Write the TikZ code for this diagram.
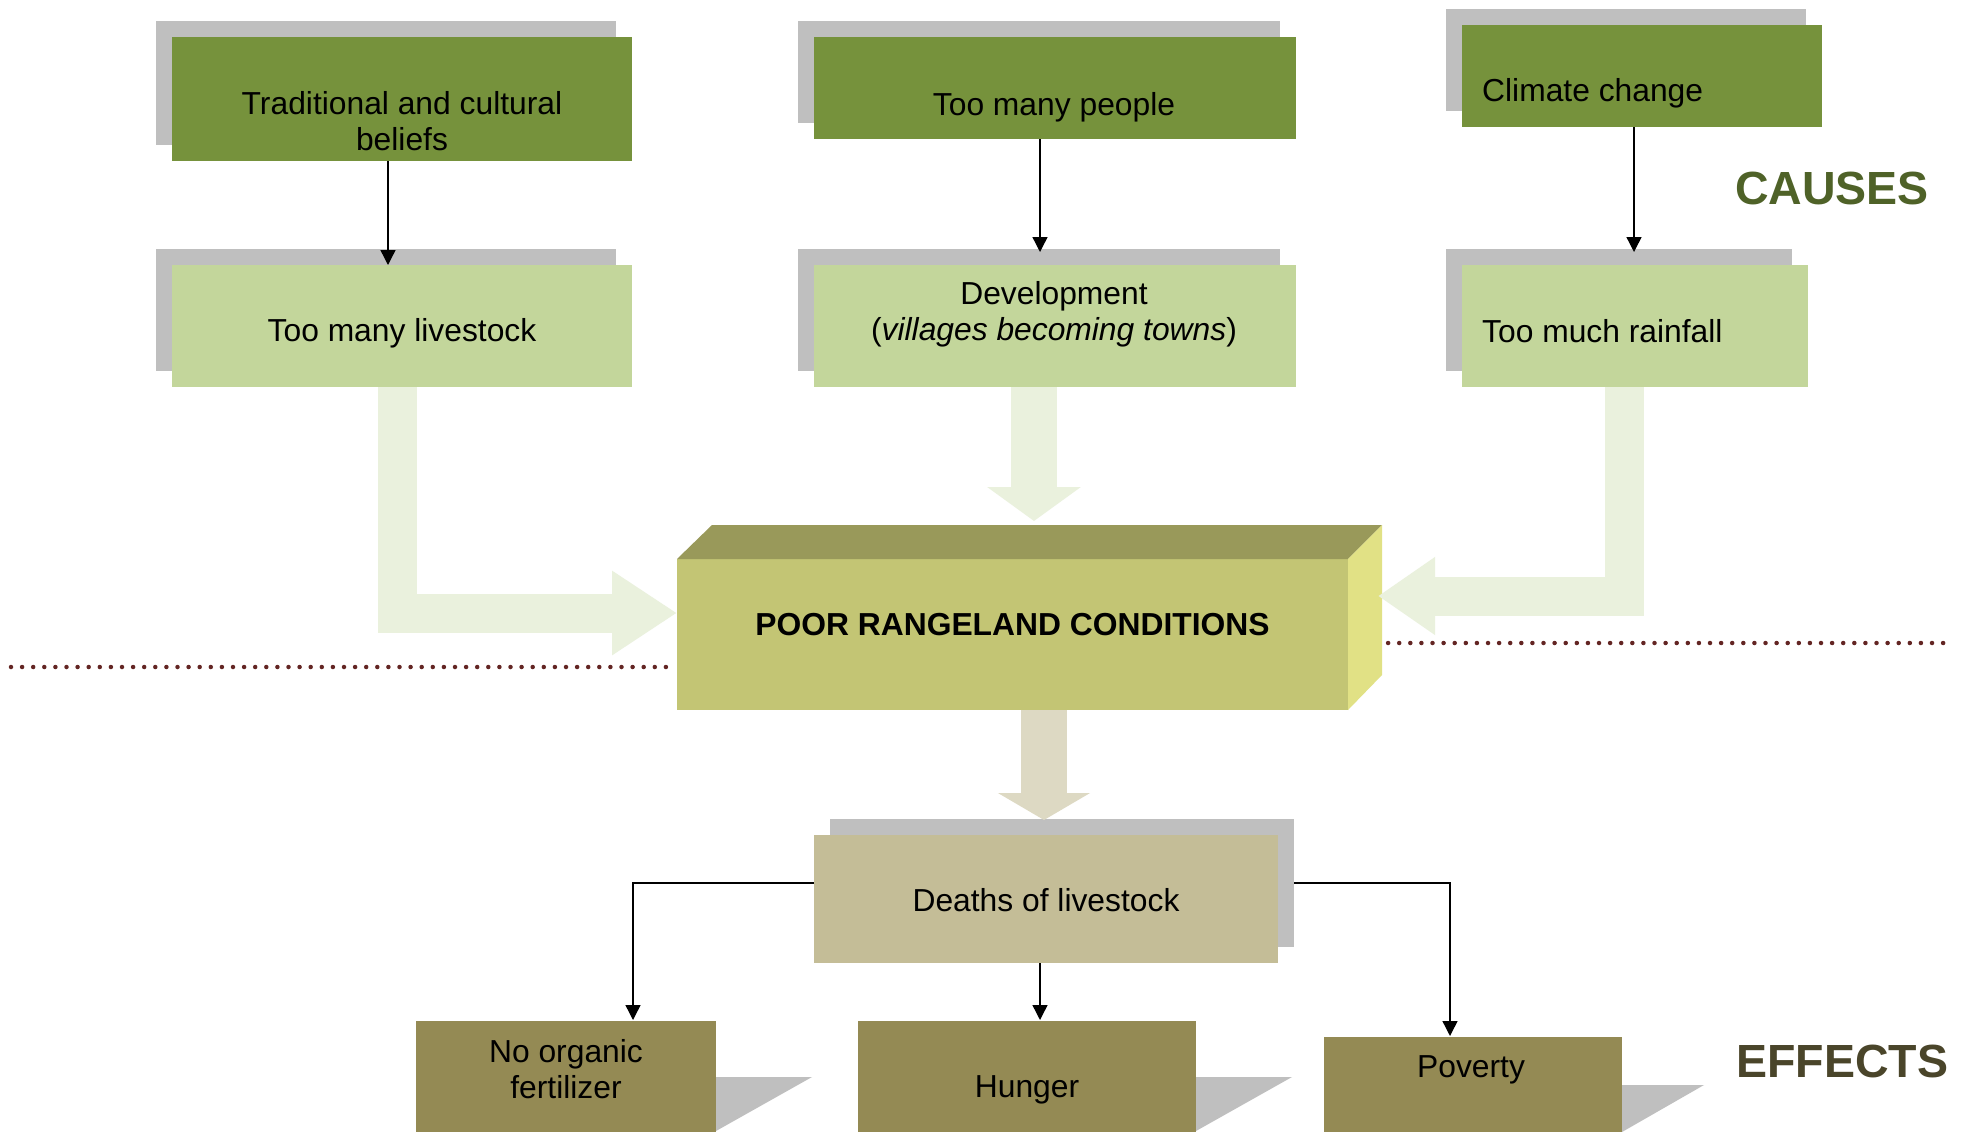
\documentclass[tikz,border=0pt]{standalone}
\usepackage{fontspec}
\setmainfont{Liberation Sans}
\usetikzlibrary{arrows.meta,shadows,calc}

\definecolor{causegreen}{HTML}{76923C}
\definecolor{factgreen}{HTML}{C3D69B}
\definecolor{shadowgray}{HTML}{BFBFBF}
\definecolor{flowgreen}{HTML}{EAF1DD}
\definecolor{flowbrown}{HTML}{DDD9C3}
\definecolor{corefront}{HTML}{C3C574}
\definecolor{coretop}{HTML}{99995A}
\definecolor{coreside}{HTML}{E1E185}
\definecolor{deathfill}{HTML}{C4BD97}
\definecolor{effectfill}{HTML}{948A54}
\definecolor{causetitle}{HTML}{4F6228}
\definecolor{effecttitle}{HTML}{4A452A}
\definecolor{divider}{HTML}{632523}

\begin{document}
\begin{tikzpicture}[x=1pt,y=-1pt,
  box/.style={rectangle, inner sep=0pt, outer sep=0pt, anchor=north west},
  ulshadow/.style={general shadow={fill=shadowgray, shadow xshift=-16pt, shadow yshift=16pt}},
  urshadow/.style={general shadow={fill=shadowgray, shadow xshift=16pt, shadow yshift=16pt}},
  txt/.style={inner sep=0pt, anchor=base, align=center, font=\fontsize{31.8}{35.5}\selectfont},
  txtl/.style={inner sep=0pt, anchor=base west, font=\fontsize{31.8}{35.5}\selectfont},
  title/.style={inner sep=0pt, anchor=base west, font=\bfseries\fontsize{46.5}{50}\selectfont},
  conn/.style={draw=black, line width=1.4pt, -{Triangle[length=15pt,width=15pt]}},
  dots/.style={draw=divider, line width=4.5pt, line cap=round, dash pattern=on 0pt off 11.1pt}
]
\useasboundingbox (0,0) rectangle (1971,1132);
\fill[white] (0,0) rectangle (1971,1132);

% ---------- causes ----------
\node[box, ulshadow, fill=causegreen, minimum width=460pt, minimum height=124pt] (c1) at (172,37) {};
\node[box, ulshadow, fill=causegreen, minimum width=482pt, minimum height=102pt] (c2) at (814,37) {};
\node[box, ulshadow, fill=causegreen, minimum width=360pt, minimum height=102pt] (c3) at (1462,25) {};

\node[box, ulshadow, fill=factgreen, minimum width=460pt, minimum height=122pt] (m1) at (172,265) {};
\node[box, ulshadow, fill=factgreen, minimum width=482pt, minimum height=122pt] (m2) at (814,265) {};
\node[box, ulshadow, fill=factgreen, minimum width=346pt, minimum height=122pt] (m3) at (1462,265) {};

% two-line labels are placed by the baseline of their last line
\node[txt] (c1t) at (402,150) {Traditional and cultural\\beliefs};
\node[txt] (c2t) at (1054,115) {Too many people};
\node[txtl] (c3t) at (1482,101) {Climate change};
\node[txt] (m1t) at (402,341) {Too many livestock};
\node[txt] (m2t) at (1054,340) {Development\\(\textit{villages becoming towns})};
\node[txtl] (m3t) at (1482,342) {Too much rainfall};

\node[title, text=causetitle] (causes) at (1735,204) {CAUSES};

\draw[conn] ([xshift=-14pt]c1.south) -- ([xshift=-14pt]m1.north);
\draw[conn] ([xshift=-15pt]c2.south) -- ($(m2.north)+(-15,-13)$);
\draw[conn] ([xshift=-8pt]c3.south) -- ($(m3.north)+(-1,-13)$);

% ---------- dividing line ----------
\draw[dots] (11,667) -- (668,667);
\draw[dots] (1377,643) -- (1946,643);

% ---------- central block ----------
\node[box, fill=corefront, minimum width=671pt, minimum height=151pt] (core) at (677,559) {};
\fill[coretop] (core.north west) -- ++(35,-34) -- ($(core.north east)+(34,-34)$) -- (core.north east) -- cycle;
\fill[coreside] (core.north east) -- ++(34,-34) -- ++(0,150) -- (core.south east) -- cycle;
\node[txt, font=\bfseries\fontsize{31.8}{35.5}\selectfont] (coret) at (1012.5,635) {POOR RANGELAND CONDITIONS};

% broad flow arrows into and out of the block
\draw[flowgreen, line width=39pt, -{Triangle[length=65pt,width=80pt]}]
  ([xshift=-5pt]m1.south) |- ($(core.west)+(0,-21.5)$);
\draw[flowgreen, line width=46pt, -{Triangle[length=34pt,width=92pt]}]
  ([xshift=-21pt]m2.south) -- ($(m2.south |- core.north)+(-21,-38)$);
\draw[flowgreen, line width=39pt, -{Triangle[length=57pt,width=74pt]}]
  ([xshift=-11pt]m3.south) |- ($(core.east)+(30,-38.5)$);

% ---------- effects ----------
\node[box, urshadow, fill=deathfill, minimum width=464pt, minimum height=128pt] (deaths) at (814,835) {};
\node[txt] (deathst) at (1046,911) {Deaths of livestock};

\draw[flowbrown, line width=46pt, -{Triangle[length=27pt,width=91pt]}]
  ($(core.south)+(31.5,0)$) -- ($(deaths.north)+(-2,-15)$);

\node[box, fill=effectfill, minimum width=300pt, minimum height=120pt] (e1) at (416,1021) {};
\node[box, fill=effectfill, minimum width=338pt, minimum height=120pt] (e2) at (858,1021) {};
\node[box, fill=effectfill, minimum width=298pt, minimum height=104pt] (e3) at (1324,1037) {};

\fill[shadowgray] ([yshift=-56pt]e1.north east) -- ++(96,0) -- ++(-96,54) -- cycle;
\fill[shadowgray] ([yshift=-56pt]e2.north east) -- ++(96,0) -- ++(-96,54) -- cycle;
\fill[shadowgray] ([yshift=-48pt]e3.north east) -- ++(82,0) -- ++(-82,47) -- cycle;

\node[txt] (e1t) at (566,1098) {No organic\\fertilizer};
\node[txt] (e2t) at (1027,1097) {Hunger};
\node[txt] (e3t) at (1471,1077) {Poverty};

\node[title, text=effecttitle] (effects) at (1736,1077) {EFFECTS};

\draw[conn] ([yshift=16pt]deaths.west) -| ($(e1.north)+(67,-1)$);
\draw[conn] ([xshift=-6pt]deaths.south) -- ($(e2.north)+(13,-1)$);
\draw[conn] ($(deaths.east)+(16,-16)$) -| ($(e3.north)+(-23,-1)$);
\end{tikzpicture}
\end{document}
